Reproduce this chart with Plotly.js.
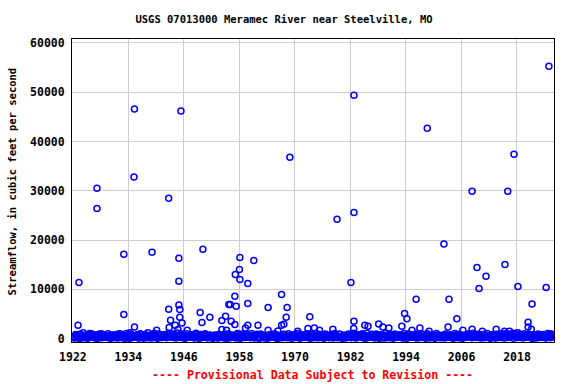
<!DOCTYPE html>
<html>
<head>
<meta charset="utf-8">
<script src="https://cdn.plot.ly/plotly-3.0.1.min.js"></script>
<style>html,body{margin:0;padding:0;background:#fff;}#chart{width:576px;height:384px;}</style>
</head>
<body>
<div id="chart"></div>
<script>
// Years of the low-flow band (one entry per year)
const bandYears = [];
for (let y = 1922; y <= 2025; y++) bandYears.push(y);

const lowFlowA = [420,310,560,250,680,390,470,220,150,330,
  510,640,280,450,190,360,580,270,410,230,
  620,540,700,480,650,390,520,610,430,560,
  180,260,340,470,210,380,590,310,450,280,
  370,250,190,420,310,530,470,390,280,510,
  460,620,580,490,270,350,540,600,210,160,
  560,480,390,650,570,420,340,250,470,380,
  310,720,590,480,360,530,410,390,280,350,
  460,320,410,370,150,290,610,580,520,480,
  190,340,430,550,620,590,470,510,440,380,
  290,350,420,260];
const lowFlowB = [180,760,240,590,330,120,810,460,380,540,
  290,140,720,560,410,270,330,880,190,620,
  350,810,290,930,310,740,260,380,820,270,
  450,130,580,240,690,830,240,710,180,640,
  150,580,410,260,690,320,160,610,720,230,
  780,310,420,830,560,150,690,380,430,520,
  840,290,760,350,260,710,580,140,620,680,
  570,410,880,260,690,320,750,210,540,160,
  680,590,270,720,410,530,320,790,340,690,
  560,120,650,380,290,830,320,740,610,520,
  180,640,230,590];
const lowFlowC = [620,90,390,840,130,550,260,650,720,110,
  810,390,160,290,760,590,130,420,700,380,
  880,230,470,170,540,260,900,160,380,690,
  710,520,120,680,400,190,740,280,560,860,
  640,110,730,590,150,780,340,210,480,690,
  240,880,170,390,740,620,250,890,150,310,
  370,690,180,540,820,260,730,620,210,500,
  760,190,470,640,150,820,560,690,720,410,
  220,730,640,180,600,760,450,240,850,210,
  780,450,240,710,860,410,690,260,730,140,
  620,480,750,310];
const lowFlowD = [290,480,140,410,530,770,340,110,560,690,
  140,470,610,820,330,150,690,560,290,780,
  480,390,610,720,280,560,380,740,150,470,
  290,690,440,170,530,640,350,530,730,190,
  490,360,560,140,470,240,610,550,140,370,
  530,190,720,260,410,810,370,230,680,740,
  230,560,610,240,430,560,190,410,760,280,
  430,570,310,820,540,250,180,470,360,640,
  550,160,780,520,330,410,680,370,160,560,
  320,680,810,200,470,280,540,620,330,690,
  450,210,560,720];
const lowFlowE = [120,60,210,90,300,40,180,250,70,150,
  230,110,50,270,140,80,320,190,60,240,
  160,290,100,210,50,330,130,70,260,180,
  40,150,230,90,310,120,60,200,280,100,
  70,190,130,250,40,160,300,90,220,140,
  210,80,270,150,60,330,120,190,50,240,
  180,100,260,70,310,140,50,220,160,90,
  250,130,60,290,110,200,80,170,40,230,
  140,270,90,190,60,310,150,220,100,280,
  50,170,240,110,320,90,200,140,260,70,
  150,230,100,190];
const lowFlowF = [820,950,680,1040,760,900,620,980,710,860,
  740,1010,890,650,970,830,700,1080,920,780,
  1050,940,1120,870,990,760,1100,850,960,720,
  640,880,790,960,700,1010,930,820,1060,750,
  910,690,840,1000,620,880,970,760,1030,800,
  990,850,1070,780,930,700,1040,890,660,950,
  1090,820,970,1110,880,940,760,1020,850,910,
  800,1060,930,780,1000,870,960,720,1040,690,
  920,780,1010,860,720,980,1070,900,830,1020,
  760,880,990,1050,940,1100,820,970,880,790,
  930,840,1010,870];

// Higher flows (decimal year, cfs)
const peakYears = [1935.3,1945.35,1935.2,1927.2,1927.2,1942.7,1933.0,1939.1,1944.9,1950.1,
  1923.3,1944.9,1933.0,1923.1,1935.3,1944.9,1942.7,1945.1,1943.1,1945.1,
  1945.6,1949.5,1949.9,1951.6,1954.2,1955.0,1955.7,1940.1,1944.1,1942.8,
  1944.7,1946.7,1954.2,1924.2,1926.0,1928.1,1932.1,1934.3,1938.2,
  1982.76,1968.9,1982.76,1979.1,1982.1,1958.1,1961.1,1958.0,1957.1,1958.1,
  1959.8,1957.0,1956.0,1957.3,1959.8,1967.1,1964.2,1968.3,1968.1,1967.6,
  1967.1,1973.2,1956.2,1959.8,1962.0,1959.3,1982.76,1982.7,1985.1,1985.8,
  1988.1,1989.0,1974.2,1970.6,1964.2,1978.2,1957.0,1972.8,1975.3,1966.3,1955.2,
  2024.9,1998.6,2017.35,2008.3,2016.0,2002.2,2009.35,2015.4,2011.3,2009.8,
  2018.2,2024.3,1996.2,2003.3,2021.25,1993.7,1994.2,2005.0,1993.1,1997.0,
  2003.1,2006.3,2008.3,2013.5,2020.4,2020.4,1990.3,2015.3,2016.4,2018.2,
  2021.1,1999.0,1995.3,2025.2,2010.5];
const peakFlows = [46600,46200,32800,30500,26400,28500,17100,17550,16300,18150,
  11400,11650,4900,2700,2350,6800,5950,5900,3700,4350,
  3150,5300,3250,4350,3650,4550,6900,1700,2700,2250,
  1850,1700,1850,1200,1000,1000,1000,1200,1200,
  49400,36800,25600,24200,11400,16450,15850,14000,13000,12000,
  11200,8600,6900,6550,7100,8950,6300,6300,4350,2900,
  2700,4450,3500,2700,2700,2150,3500,2050,2700,2500,
  2950,2350,2150,1500,1700,1900,2850,2050,1700,1550,1700,
  55300,42700,37400,29900,29900,19200,14450,15050,12650,10150,
  10600,10350,8000,8000,7000,5100,4050,4050,2500,2150,
  2350,1700,1900,1900,3300,2350,2150,1500,1500,1200,
  1900,1500,1700,1000,1500];

const xTicks = [1922,1934,1946,1958,1970,1982,1994,2006,2018];
const yTicks = [0,10000,20000,30000,40000,50000,60000];

const titleText = 'USGS 07013000 Meramec River near Steelville, MO';
const yTitleText = 'Streamflow, in cubic feet per second';
const footerText = '---- Provisional Data Subject to Revision ----';

const mono = 'DejaVu Sans Mono';
const markerStyle = {symbol: 'circle-open', size: 6, color: '#0000ff', line: {width: 1.5, color: '#0000ff'}};

const lows = [lowFlowA, lowFlowE, lowFlowB, lowFlowF, lowFlowC, lowFlowD];
const offsets = [0.08, 0.25, 0.42, 0.58, 0.75, 0.92];
const traces = lows.map((arr, k) => ({
  x: bandYears.map(y => y + offsets[k]),
  y: arr,
  type: 'scatter', mode: 'markers', marker: markerStyle,
  hoverinfo: 'skip', showlegend: false, cliponaxis: true
}));
traces.push({x: peakYears, y: peakFlows, type: 'scatter', mode: 'markers', marker: markerStyle, showlegend: false, cliponaxis: true});

const layout = {
  width: 576, height: 384,
  margin: {l: 72, r: 22, t: 39, b: 42},
  paper_bgcolor: '#ffffff', plot_bgcolor: '#ffffff',
  font: {family: mono, color: '#000000'},
  showlegend: false,
  title: {text: titleText, x: 284/576, xanchor: 'center', y: 1 - 19/384, yanchor: 'middle',
    font: {family: mono, size: 10.5, color: '#000000', weight: 'bold'}},
  xaxis: {
    range: [1921.8, 2026.0], tickmode: 'array', tickvals: xTicks, ticktext: xTicks.map(String),
    showgrid: true, gridcolor: '#cccccc', gridwidth: 1, zeroline: false,
    showline: true, linecolor: '#000000', linewidth: 1, mirror: true, ticks: '',
    tickfont: {family: mono, size: 11.5, color: '#000000', weight: 'bold'}, ticklabelstandoff: 4
  },
  yaxis: {
    range: [-690, 60810], tickmode: 'array', tickvals: yTicks, ticktext: yTicks.map(String),
    showgrid: true, gridcolor: '#cccccc', gridwidth: 1, zeroline: false,
    showline: true, linecolor: '#000000', linewidth: 1, mirror: true, ticks: '',
    tickfont: {family: mono, size: 11.5, color: '#000000', weight: 'bold'}, ticklabelstandoff: 4
  },
  annotations: [
    {text: yTitleText, xref: 'paper', yref: 'paper', x: (11.7 - 72) / 482, y: (342 - 181.7) / 303,
      xanchor: 'center', yanchor: 'middle', textangle: -90, showarrow: false,
      font: {family: mono, size: 10.5, color: '#000000', weight: 'bold'}},
    {text: footerText, xref: 'paper', yref: 'paper', x: (312.5 - 72) / 482, y: (342 - 375) / 303,
      xanchor: 'center', yanchor: 'middle', showarrow: false,
      font: {family: mono, size: 11.6, color: '#ff0000', weight: 'bold'}}
  ]
};

Plotly.newPlot('chart', traces, layout, {staticPlot: true, displayModeBar: false});
</script>
</body>
</html>
